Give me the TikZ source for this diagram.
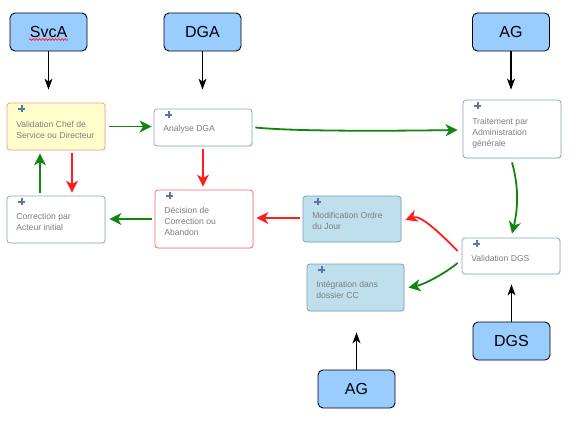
\documentclass[tikz,border=0pt]{standalone}
\usepackage{fontspec}
\setmainfont{Liberation Sans}
\usetikzlibrary{arrows.meta,calc,decorations.pathmorphing,shadows}
\definecolor{actorfill}{RGB}{153,204,255}
\definecolor{taskborder}{RGB}{140,165,190}
\definecolor{yellowfill}{RGB}{255,255,204}
\definecolor{pinkborder}{RGB}{255,150,150}
\definecolor{redborder}{RGB}{255,100,100}
\definecolor{bluefill}{RGB}{190,223,235}
\definecolor{blueborder}{RGB}{120,160,190}
\definecolor{labelgray}{RGB}{125,125,130}
\definecolor{plusblue}{RGB}{90,120,165}
\definecolor{flowgreen}{RGB}{16,134,16}
\definecolor{flowred}{RGB}{255,30,30}
\tikzset{
  actor/.style={draw=black, line width=0.9pt, fill=actorfill, rounded corners=5pt,
    minimum width=77pt, minimum height=38pt, inner sep=0pt,
    font=\fontsize{16}{19}\selectfont},
  task/.style={draw=taskborder, line width=0.8pt, fill=white, rounded corners=3pt,
    minimum width=98pt, inner sep=0pt,
    drop shadow={shadow xshift=1pt, shadow yshift=-1pt, opacity=0.10, fill=gray}},
  tasklabel/.style={anchor=base west, inner sep=0pt, align=left, text=labelgray,
    font=\fontsize{8.6}{10.7}\selectfont},
  plusicon/.style={draw=plusblue, line width=2.2pt},
  blackarrow/.style={draw=black, line width=1.1pt, -{Stealth[length=11pt,width=8pt,inset=3pt]}},
  garrow/.style={draw=flowgreen, line width=1.8pt, -{Stealth[length=12pt,width=12pt,inset=3.5pt]}},
  rarrow/.style={draw=flowred, line width=1.8pt, -{Stealth[length=12pt,width=12pt,inset=3.5pt]}},
}
\begin{document}
\begin{tikzpicture}[x=1pt,y=-1pt]
\useasboundingbox (0,0) rectangle (583,421);

% actors
\node[actor] (svca) at (48.5,32) {SvcA};
\node[actor] (dga) at (202.5,32) {DGA};
\node[actor] (agtop) at (511,32) {AG};
\node[actor] (dgs) at (511.5,341) {DGS};
\node[actor] (agbot) at (356.5,389) {AG};
\draw[flowred, line width=0.7pt, decorate, decoration={snake, amplitude=0.9pt, segment length=3.2pt}]
  (29,39.5) -- (68,39.5);

% tasks
\node[task, fill=yellowfill, draw=pinkborder, minimum height=47pt] (vc) at (56,126.5) {};
\node[task, minimum height=37pt] (ad) at (203,127.5) {};
\node[task, minimum height=47pt] (cor) at (56,219.5) {};
\node[task, draw=redborder, minimum height=58pt] (dec) at (204,219) {};
\node[task, minimum height=58pt] (tr) at (512,129) {};
\node[task, fill=bluefill, draw=blueborder, minimum height=46pt] (mod) at (352,219) {};
\node[task, fill=bluefill, draw=blueborder, minimum width=97pt, minimum height=47pt] (integ) at (355.5,287.5) {};
\node[task, minimum height=36pt] (vdgs) at (511,256) {};

\foreach \b in {vc,ad,cor,dec,tr,mod,integ,vdgs}{
  \draw[plusicon] ($(\b.north west)+(11.5,6)$) -- +(7,0)
                  ($(\b.north west)+(15,2.5)$) -- +(0,7);
}

% labels (base anchor = baseline of the last line)
\node[tasklabel] (vct) at ($(vc.north west)+(9.5,35.7)$) {Validation Chef de\\Service ou Directeur};
\node[tasklabel] (adt) at ($(ad.north west)+(9.5,23)$) {Analyse DGA};
\node[tasklabel] (cort) at ($(cor.north west)+(9.5,34.7)$) {Correction par\\Acteur initial};
\node[tasklabel] (dect) at ($(dec.north west)+(9.5,45.4)$) {Décision de\\Correction ou\\Abandon};
\node[tasklabel] (trt) at ($(tr.north west)+(9.5,46.4)$) {Traitement par\\Administration\\générale};
\node[tasklabel] (modt) at ($(mod.north west)+(9.5,33.7)$) {Modification Ordre\\du Jour};
\node[tasklabel] (integt) at ($(integ.north west)+(9.5,34.7)$) {Intégration dans\\dossier CC};
\node[tasklabel] (vdgst) at ($(vdgs.north west)+(9.5,24)$) {Validation DGS};

% actor arrows
\draw[blackarrow, shorten >=13pt] (svca.south) -- (svca.south |- vc.north);
\draw[blackarrow, shorten >=19pt] (dga.south) -- (dga.south |- ad.north);
\draw[blackarrow, shorten >=10pt] (agtop.south) -- (agtop.south |- tr.north);
\draw[blackarrow, shorten >=10pt] (dgs.north) -- (dgs.north |- vdgs.south);
\draw[blackarrow, shorten >=21pt] (agbot.north) -- (agbot.north |- integ.south);

% flows
\draw[garrow, shorten <=4pt, shorten >=2pt] (vc.east) -- (vc.east -| ad.west);
\draw[garrow] ($(ad.east)+(3,0)$) .. controls +(40,4) and +(-70,1) .. ($(tr.west)+(-5,1)$);
\draw[rarrow, shorten <=3pt, shorten >=3pt] ($(ad.south)+(0,0)$) -- ($(ad.south |- dec.north)$);
\draw[rarrow, shorten <=3pt, shorten >=3pt] ($(vc.south)+(16,0)$) -- ($(vc.south |- cor.north)+(16,0)$);
\draw[garrow, shorten <=3pt, shorten >=3pt] ($(cor.north)+(-16,0)$) -- ($(cor.north |- vc.south)+(-16,0)$);
\draw[garrow, shorten <=3pt, shorten >=4pt] (dec.west) -- (dec.west -| cor.east);
\draw[rarrow, shorten >=3pt] ($(mod.west)+(-3,-1)$) -- ($(mod.west -| dec.east)+(0,-1)$);
\draw[garrow] ($(tr.south)+(0,4)$) .. controls +(7,25) and +(6,-25) .. ($(vdgs.north)+(1,-4)$);
\draw[rarrow] ($(vdgs.west)+(-4,-5)$) .. controls +(-12,-12) and +(16,-6) .. ($(mod.east)+(4,1)$);
\draw[garrow] ($(vdgs.west)+(-4,7)$) .. controls +(-12,10) and +(16,-3) .. ($(integ.east)+(4,0)$);
\end{tikzpicture}
\end{document}
